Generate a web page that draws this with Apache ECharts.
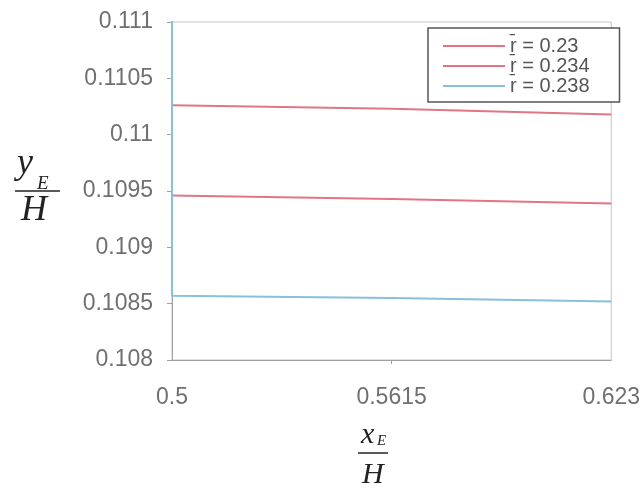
<!DOCTYPE html>
<html>
<head>
<meta charset="utf-8">
<script src="https://cdn.jsdelivr.net/npm/echarts@6/dist/echarts.min.js"></script>
<style>
  html, body { margin: 0; padding: 0; background: #fff; }
  #chart { width: 643px; height: 490px; }
</style>
</head>
<body>
<div id="chart"></div>
<script>
// data
const seriesNames = ["r\u0304 = 0.23", "r\u0304 = 0.234", "r\u0304 = 0.238"];
const xTicks = [0.5, 0.5615, 0.623];
const xA = [0.5, 0.5615, 0.623];
const yA = [0.11026, 0.11023, 0.11018];
const xB = [0.5, 0.5615, 0.623];
const yB = [0.10946, 0.10943, 0.10939];
// blue one comes down from above the plot at x = 0.5
const xC = [0.5, 0.5, 0.5615, 0.623];
const yC = [0.1115, 0.10857, 0.10855, 0.10852];

const red = "#e27584";
const blue = "#86c0dc";
const labelColor = "#707070";
const axisColor = "#a0a0a0";

function pairs(xs, ys) {
  return xs.map((x, i) => [x, ys[i]]);
}

const chart = echarts.init(document.getElementById("chart"));

const options = {
  animation: false,
  grid: {
    left: 172,
    right: 31,
    top: 22,
    bottom: 130,
    show: true,
    borderColor: "#c4c4c4",
    borderWidth: 1,
  },
  legend: {
    orient: "vertical",
    left: 428,
    top: 28,
    padding: [8, 30, 6, 15],
    itemGap: 0,
    itemWidth: 62,
    itemHeight: 2,
    icon: "rect",
    backgroundColor: "#fff",
    borderColor: "#555",
    borderWidth: 1.5,
    textStyle: { fontFamily: "Liberation Sans", fontSize: 20, lineHeight: 20, color: "#555" },
    data: seriesNames,
  },
  xAxis: {
    type: "value",
    min: 0.5,
    max: 0.623,
    splitLine: { show: false },
    axisLine: { lineStyle: { color: axisColor } },
    axisTick: { customValues: [0.5615], length: 4, lineStyle: { color: axisColor } },
    axisLabel: {
      customValues: xTicks,
      margin: 26,
      color: labelColor,
      fontFamily: "Liberation Sans",
      fontSize: 23,
    },
  },
  yAxis: {
    type: "value",
    min: 0.108,
    max: 0.111,
    interval: 0.0005,
    splitLine: { show: false },
    axisLine: { show: true, lineStyle: { color: axisColor } },
    axisTick: { show: true, length: 5, lineStyle: { color: axisColor } },
    axisLabel: {
      margin: 19,
      color: labelColor,
      fontFamily: "Liberation Sans",
      fontSize: 23,
    },
  },
  series: [
    { name: seriesNames[0], type: "line", data: pairs(xA, yA), color: red },
    { name: seriesNames[1], type: "line", data: pairs(xB, yB), color: red },
    { name: seriesNames[2], type: "line", data: pairs(xC, yC), color: blue },
  ].map((s) => Object.assign(s, {
    symbol: "none",
    clip: true,
    lineStyle: { width: 2, color: s.color },
  })),
  // axis titles as fractions
  graphic: [
    { type: "text", left: 17, top: 146, style: { text: "y", font: "italic 36px 'Liberation Serif'", fill: "#222" } },
    { type: "text", left: 37, top: 174, style: { text: "E", font: "italic 19px 'Liberation Serif'", fill: "#222" } },
    { type: "line", shape: { x1: 15, y1: 191, x2: 60, y2: 191 }, style: { stroke: "#222", lineWidth: 1.5 } },
    { type: "text", left: 21, top: 193, style: { text: "H", font: "italic 36px 'Liberation Serif'", fill: "#222" } },
    { type: "text", left: 361, top: 420, style: { text: "x", font: "italic 30px 'Liberation Serif'", fill: "#222" } },
    { type: "text", left: 377, top: 434, style: { text: "E", font: "italic 15px 'Liberation Serif'", fill: "#222" } },
    { type: "line", shape: { x1: 358, y1: 453, x2: 388, y2: 453 }, style: { stroke: "#222", lineWidth: 1.5 } },
    { type: "text", left: 362, top: 460, style: { text: "H", font: "italic 30px 'Liberation Serif'", fill: "#222" } },
  ],
};

chart.setOption(options);
</script>
</body>
</html>
